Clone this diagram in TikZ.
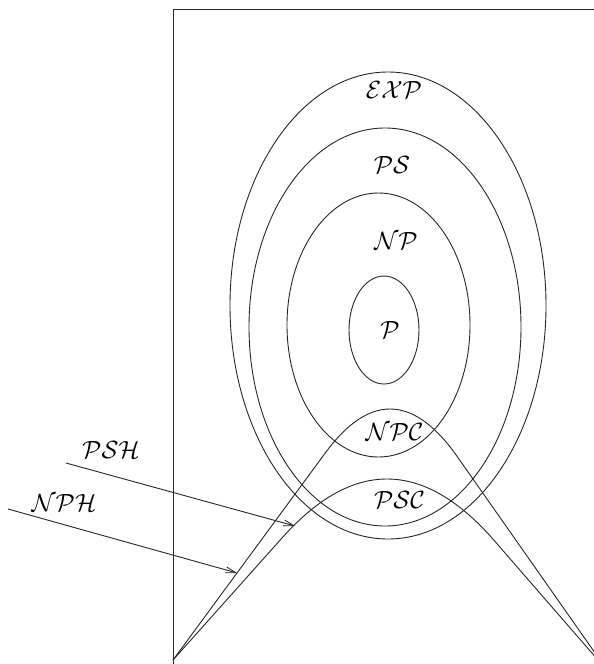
\documentclass[tikz,border=0pt]{standalone}
\usetikzlibrary{arrows.meta}
\begin{document}
\begin{tikzpicture}[x=1pt,y=-1pt,
  ln/.style={line width=0.9pt, black!85},
  lbl/.style={inner sep=0pt, font=\fontsize{24}{28}\selectfont},
  arr/.style={ln, -{Straight Barb[length=10pt,width=6pt,line width=0.8pt]}}]
\useasboundingbox (0,0) rectangle (594,664);
% frame
\coordinate (ftl) at (173,9);
\coordinate (ftr) at (594,9);
\coordinate (fbl) at (173,664);
\draw[ln] (ftr) -- (ftl) -- (fbl);
% ellipses
\draw[ln] (388,305.5) ellipse [x radius=158pt, y radius=233.5pt];
\draw[ln] (385,327) ellipse [x radius=136pt, y radius=199pt];
\draw[ln] (378.5,325) ellipse [x radius=91.5pt, y radius=132pt];
\draw[ln] (384,330) ellipse [x radius=35pt, y radius=54pt];
% hardness curves
\coordinate (L) at (173,660);
\coordinate (Rn) at (600,660);
\coordinate (Rp) at (598,660);
\coordinate (npcTop) at (390,409);
\coordinate (pscTop) at (387,479);
\draw[ln] (L) -- (326.2,451.7) .. controls (347.5,423.2) and (368.7,409) .. (npcTop)
              .. controls (411.3,409) and (432.5,423.2) .. (453.8,451.7) -- (Rn);
\draw[ln] (L) -- (283.3,536.5) .. controls (317.9,498.2) and (352.4,479) .. (pscTop)
              .. controls (421.6,479) and (456.1,498.2) .. (490.7,536.5) -- (Rp);
% labels
\node[lbl] (exp) at (394,90) {$\mathcal{EXP}$};
\node[lbl] (ps) at (392,165) {$\mathcal{PS}$};
\node[lbl] (np) at (396,241) {$\mathcal{NP}$};
\node[lbl] (p) at (390,330) {$\mathcal{P}$};
\node[lbl] (npc) at (394.5,432) {$\mathcal{NPC}$};
\node[lbl] (psc) at (399.5,500) {$\mathcal{PSC}$};
\node[lbl] (psh) at (111,450) {$\mathcal{PSH}$};
\node[lbl] (nph) at (64,503) {$\mathcal{NPH}$};
% arrows
\coordinate (pshS) at (66,463);
\coordinate (pshE) at (295,526);
\coordinate (nphS) at (8,509);
\coordinate (nphE) at (237,573);
\draw[arr] (pshS) -- (pshE);
\draw[arr] (nphS) -- (nphE);
\end{tikzpicture}
\end{document}
